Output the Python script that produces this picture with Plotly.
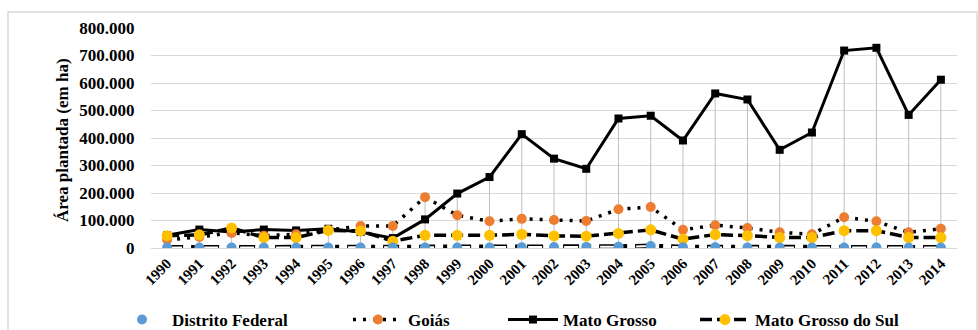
import plotly.graph_objects as go

years = [str(y) for y in range(1990, 2015)]
distrito_federal = [1500, 1500, 1500, 1500, 1500, 1500, 1500, 1500, 1500, 1500, 2000, 3000, 3500, 4000, 4500, 7000,
                    2500, 3000, 2000, 1500, 1500, 1500, 1500, 1500, 1500]
goias = [30000, 40000, 55000, 45000, 50000, 65000, 80000, 80000, 185000, 119000, 97000, 106000, 102000, 98000,
         141000, 149000, 66000, 83000, 73000, 57000, 50000, 112000, 97000, 57000, 70000]
mato_grosso = [46000, 67000, 58000, 67000, 64000, 70000, 58000, 36000, 104000, 198000, 258000, 414000, 325000,
               288000, 471000, 481000, 391000, 562000, 540000, 357000, 420000, 718000, 728000, 484000, 612000]
mato_grosso_sul = [45000, 48000, 73000, 38000, 38000, 64000, 62000, 25000, 46000, 46000, 46000, 50000, 44000,
                   43000, 53000, 66000, 32000, 49000, 45000, 38000, 38000, 63000, 63000, 38000, 38000]
y_ticks = [0, 100000, 200000, 300000, 400000, 500000, 600000, 700000, 800000]

FONT = "Liberation Serif, Times New Roman, serif"

W, H = 978, 330
L, R, T, B = 151, 21, 28, 82
pw, ph = W - L - R, H - T - B


def px_x(p):
    return (p - L) / pw


def px_y(p):
    return (H - B - p) / ph


legend_font = dict(family=FONT, size=17, color="black", weight="bold")


def legend_box(text_start_px):
    return dict(orientation="h", x=(text_start_px - 60) / W, y=(H - 320) / H, xref="container",
                yref="container", xanchor="left", yanchor="middle", font=legend_font,
                itemwidth=50, bgcolor="rgba(0,0,0,0)")


fig = go.Figure()

# drop lines from highest point to axis
dx, dy = [], []
for i, yr in enumerate(years):
    m = max(distrito_federal[i], goias[i], mato_grosso[i], mato_grosso_sul[i])
    dx += [yr, yr, None]
    dy += [0, m, None]
fig.add_trace(go.Scatter(x=dx, y=dy, mode="lines", line=dict(color="#BFBFBF", width=1),
                         showlegend=False, hoverinfo="skip"))

fig.add_trace(go.Scatter(x=years, y=mato_grosso, name="Mato Grosso", mode="lines+markers",
                         line=dict(color="black", width=3),
                         marker=dict(symbol="square", size=8, color="black"), legend="legend3"))
fig.add_trace(go.Scatter(x=years, y=goias, name="Goiás", mode="lines+markers",
                         line=dict(color="black", width=3.5, dash="3px,7px"),
                         marker=dict(symbol="circle", size=10, color="#ED7D31"), legend="legend2"))
fig.add_trace(go.Scatter(x=years, y=mato_grosso_sul, name="Mato Grosso do Sul", mode="lines+markers",
                         line=dict(color="black", width=3.5, dash="12px,5px"),
                         marker=dict(symbol="circle", size=11, color="#FFC000"), legend="legend4"))
# Distrito Federal: hollow dash + dot line, blue markers
fig.add_trace(go.Scatter(x=years, y=distrito_federal, mode="lines",
                         line=dict(color="black", width=5, dash="16px,20px"),
                         showlegend=False, hoverinfo="skip"))
fig.add_trace(go.Scatter(x=years, y=distrito_federal, mode="lines",
                         line=dict(color="white", width=2, dash="0px,1px,14px,21px"),
                         showlegend=False, hoverinfo="skip"))
fig.add_trace(go.Scatter(x=years, y=distrito_federal, name="Distrito Federal", mode="lines+markers",
                         line=dict(color="black", width=5, dash="0px,24px,4px,8px"),
                         marker=dict(symbol="circle", size=10, color="#5B9BD5"), legend="legend"))

fig.add_shape(type="rect", xref="paper", yref="paper", x0=px_x(8), x1=px_x(977), y0=px_y(345), y1=px_y(12),
              line=dict(color="#D9D9D9", width=1.5), layer="below")

fig.add_annotation(text="Área plantada (em ha)", xref="paper", yref="paper", x=px_x(62), y=px_y(140),
                   xanchor="center", yanchor="middle", textangle=-90, showarrow=False,
                   font=dict(family=FONT, size=17, color="black", weight="bold"))

fig.update_layout(
    width=W, height=H, margin=dict(l=L, r=R, t=T, b=B, autoexpand=False),
    paper_bgcolor="white", plot_bgcolor="white",
    separators=",.",
    font=dict(family=FONT, color="black"),
    xaxis=dict(type="category", categoryorder="array", categoryarray=years, tickangle=-45,
               showgrid=False, showline=True, linecolor="#D9D9D9", linewidth=1, ticks="",
               tickfont=dict(family=FONT, size=15, color="black", weight="bold"),
               range=[-0.5, len(years) - 0.5], automargin=False),
    yaxis=dict(range=[0, 800000], tickvals=y_ticks, tickformat=",.0f",
               showgrid=True, gridcolor="#D9D9D9", gridwidth=1, zeroline=False, showline=False,
               ticks="outside", ticklen=12, tickcolor="rgba(0,0,0,0)", automargin=False,
               tickfont=dict(family=FONT, size=17, color="black", weight="bold")),
    legend=legend_box(172),
    legend2=legend_box(408),
    legend3=legend_box(563),
    legend4=legend_box(755),
    showlegend=True,
)

fig.write_html("out.html")
